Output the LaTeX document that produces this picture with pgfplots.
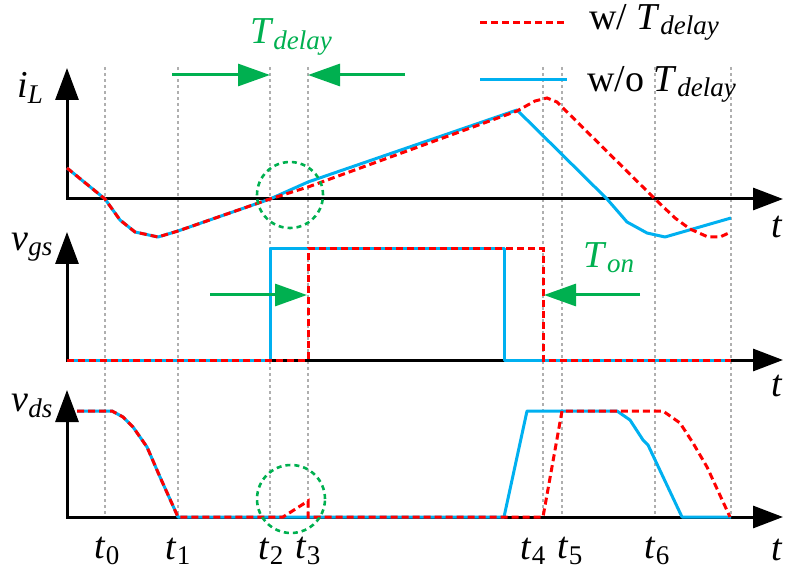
\documentclass[border=0pt]{standalone}
\usepackage{pgfplots}
\pgfplotsset{compat=1.18}
\usetikzlibrary{arrows.meta}
\usepackage{fontspec}
\setmainfont{LiberationSerif}[Extension=.ttf,UprightFont=*-Regular,ItalicFont=*-Italic,BoldFont=*-Bold,BoldItalicFont=*-BoldItalic]
\newfontfamily\tms{LiberationSerif}[Extension=.ttf,UprightFont=*-Regular,ItalicFont=*-Italic,BoldFont=*-Bold,BoldItalicFont=*-BoldItalic]
\definecolor{myred}{RGB}{255,0,0}
\definecolor{myblue}{RGB}{0,176,240}
\definecolor{mygreen}{RGB}{0,176,80}
\definecolor{mygray}{RGB}{175,175,175}
\newcommand{\F}{\tms\fontsize{19}{21}\selectfont}
\newcommand{\lab}[2]{{\F\textit{#1}\raisebox{-2.6pt}{\tms\fontsize{13.5}{14}\selectfont #2}}}
\tikzset{
  bl/.style={myblue,line width=1.5pt,line join=round},
  rd/.style={myred,line width=1.5pt,dash pattern=on 3.5pt off 2pt}}
\begin{document}
\begin{tikzpicture}[every node/.style={inner sep=0pt,font=\F}]
\begin{axis}[width=393pt,height=285.5pt,scale only axis,
  xmin=0,xmax=786,ymin=0,ymax=571,y dir=reverse,axis lines=none,clip=false]
\path (axis cs:0,0) rectangle (axis cs:786,571);
% gray reference lines
\pgfplotsinvokeforeach{105,178,270,308,543,562,655,731}{
  \draw[mygray,line width=0.6pt,dash pattern=on 1.5pt off 1.5pt] (axis cs:#1,67) -- (axis cs:#1,517);
}
% axes
\draw[line width=1.5pt,{Triangle[length=16pt,width=11.5pt]}-{Triangle[length=15pt,width=11pt]}] (axis cs:67,68) -- (axis cs:67,199) -- (axis cs:783,199);
\draw[line width=1.5pt,{Triangle[length=16pt,width=11.5pt]}-{Triangle[length=15pt,width=11pt]}] (axis cs:67,232) -- (axis cs:67,360) -- (axis cs:783,360);
\draw[line width=1.5pt,{Triangle[length=16pt,width=11.5pt]}-{Triangle[length=15pt,width=11pt]}] (axis cs:67,390) -- (axis cs:67,517) -- (axis cs:783,517);
% i_L
\addplot[bl] coordinates {(67,168) (105,199) (120,220) (135,232) (158,237) (178,231) (270,199) (308,182) (517,110) (607,199) (627,222) (647,233) (665,237) (731,218)};
\addplot[rd] coordinates {(67,168) (105,199) (120,220) (135,232) (158,237) (178,231) (270,199) (308,187) (517,111) (535,101) (547,98) (557,102) (655,199) (675,218) (690,229) (708,237) (720,237) (731,232)};
% v_gs
\addplot[bl] coordinates {(67,360) (270,360) (270,249) (504,249) (504,360) (731,360)};
\addplot[rd] coordinates {(67,360) (308,360) (308,249) (543,249) (543,360) (731,360)};
% v_ds
\addplot[bl] coordinates {(77,411) (112,411) (123,417) (133,427) (147,447) (160,477) (178,517) (504,517) (527,411) (617,411) (630,420) (643,440) (648,445) (682,517) (731,517)};
\addplot[rd] coordinates {(77,411) (112,411) (123,417) (133,427) (147,447) (160,477) (178,517) (283,517) (308,501) (308,517) (543,517) (562,411) (663,411) (680,423) (693,443) (707,467) (730,517)};
% circles
\draw[mygreen,line width=1.3pt,dash pattern=on 2.5pt off 2pt] (axis cs:290,195) circle[radius=16.5pt];
\draw[mygreen,line width=1.3pt,dash pattern=on 2.5pt off 2pt] (axis cs:291,499) circle[radius=17pt];
% green arrows
\draw[mygreen,line width=1.5pt,-{Triangle[length=16pt,width=11pt]}] (axis cs:172,75) -- (axis cs:270,75);
\draw[mygreen,line width=1.5pt,-{Triangle[length=16pt,width=11pt]}] (axis cs:405,75) -- (axis cs:308,75);
\draw[mygreen,line width=1.5pt,-{Triangle[length=16pt,width=11pt]}] (axis cs:210,295) -- (axis cs:307,295);
\draw[mygreen,line width=1.5pt,-{Triangle[length=16pt,width=11pt]}] (axis cs:640,295) -- (axis cs:544,295);
\node[mygreen] at (axis cs:291,37) {\lab{T}{\textit{delay}}};
\node[mygreen] at (axis cs:609,258) {\lab{T}{\textit{on}}};
% legend
\draw[rd] (axis cs:480,23) -- (axis cs:567,23);
\draw[bl] (axis cs:480,80) -- (axis cs:567,80);
\node[anchor=west] at (axis cs:589,22) {\F w/ \lab{T}{\textit{delay}}};
\node[anchor=west] at (axis cs:587,84) {\F w/o \lab{T}{\textit{delay}}};
% axis labels
\node at (axis cs:30,88) {\lab{i}{\textit{L}}};
\node at (axis cs:32,247) {\lab{v}{\textit{gs}}};
\node at (axis cs:32,406) {\lab{v}{\textit{ds}}};
\node at (axis cs:777,227) {\F\textit{t}};
\node at (axis cs:777,386) {\F\textit{t}};
\node at (axis cs:777,550) {\F\textit{t}};
\node at (axis cs:107,551) {\lab{t}{0}};
\node at (axis cs:178,551) {\lab{t}{1}};
\node at (axis cs:271,551) {\lab{t}{2}};
\node at (axis cs:308,551) {\lab{t}{3}};
\node at (axis cs:533,551) {\lab{t}{4}};
\node at (axis cs:570,551) {\lab{t}{5}};
\node at (axis cs:657,551) {\lab{t}{6}};
\end{axis}
\end{tikzpicture}
\end{document}
